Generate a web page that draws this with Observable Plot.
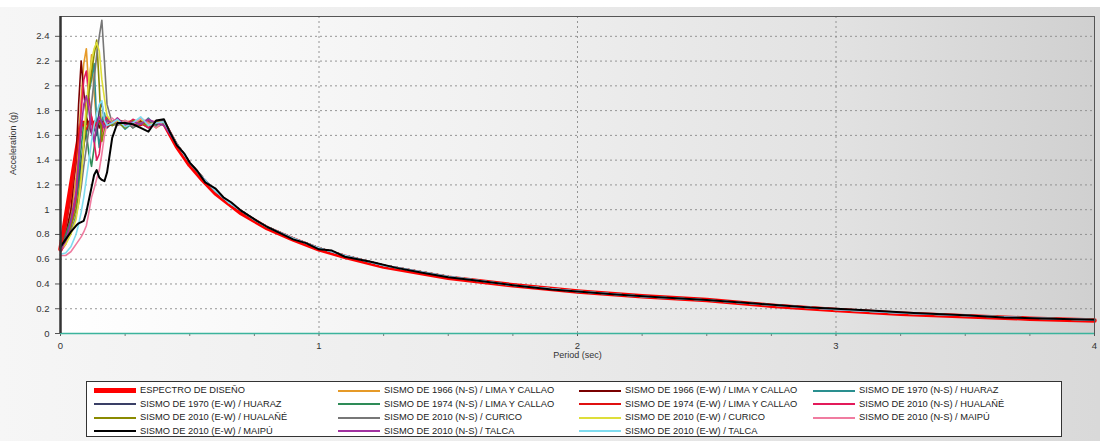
<!DOCTYPE html>
<html><head><meta charset="utf-8">
<script src="https://cdn.jsdelivr.net/npm/d3@7"></script>
<script src="https://cdn.jsdelivr.net/npm/@observablehq/plot@0.6"></script>
<style>
body{margin:0;background:#e8e8e8;font-family:"Liberation Sans",Arial,sans-serif;}
#wrap{position:relative;width:1100px;height:441px;overflow:hidden;
 background:linear-gradient(90deg,#f6f6f6 0%,#ececec 45%,#d9d9d9 100%);}
#topstrip{position:absolute;left:0;top:0;width:1100px;height:7px;background:#fff;}
#chart{position:absolute;left:0;top:0;}
#legend{position:absolute;left:86px;top:381px;width:976px;height:56px;background:#fff;border:1px solid #333;box-sizing:border-box;}
.item{position:absolute;height:13px;font-size:9.3px;color:#222;white-space:nowrap;}
.sw{position:absolute;left:0;width:42px;}
.lab{position:absolute;left:46px;top:0;line-height:13px;}
</style></head><body><div id="wrap"><div id="topstrip"></div><div id="chart"></div><div id="legend"></div></div>
<script>
// ---------- data ----------
const seriesNames = [
  "ESPECTRO DE DISEÑO",
  "SISMO DE 1966 (N-S) / LIMA Y CALLAO",
  "SISMO DE 1966 (E-W) / LIMA Y CALLAO",
  "SISMO DE 1970 (N-S) / HUARAZ",
  "SISMO DE 1970 (E-W) / HUARAZ",
  "SISMO DE 1974 (N-S) / LIMA Y CALLAO",
  "SISMO DE 1974 (E-W) / LIMA Y CALLAO",
  "SISMO DE 2010 (N-S) / HUALAÑÉ",
  "SISMO DE 2010 (E-W) / HUALAÑÉ",
  "SISMO DE 2010 (N-S) / CURICO",
  "SISMO DE 2010 (E-W) / CURICO",
  "SISMO DE 2010 (N-S) / MAIPÚ",
  "SISMO DE 2010 (E-W) / MAIPÚ",
  "SISMO DE 2010 (N-S) / TALCA",
  "SISMO DE 2010 (E-W) / TALCA"
];
const seriesColors = ["#ff0000","#e69a28","#7a0000","#2a8f8f","#3a3f66","#2e8b57","#e01010","#e31a5a","#8a8a00","#777777","#dede3a","#f07ca0","#000000","#a0309f","#7fdcef"];

// design spectrum
const designT = [0, 0.08, 0.40, 0.45, 0.5, 0.55, 0.6, 0.65, 0.7, 0.75, 0.8, 0.9, 1.0, 1.1, 1.25, 1.5, 1.75, 2.0, 2.25, 2.5, 2.75, 3.0, 3.25, 3.5, 3.75, 4.0];
const designA = [0.68, 1.70, 1.70, 1.51, 1.36, 1.24, 1.13, 1.05, 0.97, 0.91, 0.85, 0.76, 0.68, 0.62, 0.54, 0.45, 0.39, 0.34, 0.30, 0.27, 0.225, 0.19, 0.16, 0.14, 0.12, 0.105];

// records: short periods
const earlyT = [0, 0.02, 0.04, 0.06, 0.07, 0.08, 0.09, 0.10, 0.11, 0.12, 0.13, 0.14, 0.15, 0.16, 0.17, 0.18, 0.20, 0.22, 0.25, 0.28, 0.31, 0.34, 0.37, 0.40];
const lima66NS  = [0.68, 0.78, 0.95, 1.25, 1.55, 1.90, 2.18, 2.30, 1.95, 2.25, 1.95, 1.70, 1.68, 1.72, 1.70, 1.69, 1.71, 1.73, 1.70, 1.72, 1.69, 1.71, 1.66, 1.70];
const lima66EW  = [0.70, 0.80, 1.00, 1.40, 1.85, 2.20, 1.95, 1.75, 1.68, 1.62, 1.70, 1.74, 1.66, 1.70, 1.73, 1.70, 1.68, 1.72, 1.71, 1.69, 1.72, 1.70, 1.68, 1.71];
const huaraz70NS = [0.72, 0.78, 0.88, 1.05, 1.20, 1.35, 1.55, 1.75, 1.95, 2.05, 2.18, 1.70, 1.50, 1.72, 1.78, 1.68, 1.70, 1.72, 1.65, 1.70, 1.68, 1.74, 1.67, 1.70];
const huaraz70EW = [0.71, 0.77, 0.90, 1.10, 1.25, 1.40, 1.52, 1.62, 1.70, 1.72, 1.66, 1.60, 1.80, 1.86, 1.72, 1.66, 1.70, 1.73, 1.68, 1.72, 1.70, 1.66, 1.71, 1.72];
const lima74NS  = [0.75, 0.80, 0.92, 1.10, 1.30, 1.50, 1.70, 1.62, 1.45, 1.35, 1.50, 1.68, 1.72, 1.65, 1.70, 1.74, 1.68, 1.70, 1.72, 1.66, 1.70, 1.72, 1.68, 1.70];
const lima74EW  = [0.69, 0.85, 1.10, 1.40, 1.60, 1.72, 1.68, 1.65, 1.70, 1.75, 1.66, 1.70, 1.72, 1.68, 1.70, 1.67, 1.70, 1.72, 1.69, 1.70, 1.68, 1.72, 1.70, 1.69];
const hualaneNS = [0.66, 0.72, 0.85, 1.10, 1.40, 1.80, 2.05, 2.12, 1.90, 1.75, 1.55, 1.40, 1.45, 1.62, 1.72, 1.75, 1.70, 1.74, 1.68, 1.73, 1.70, 1.66, 1.72, 1.70];
const hualaneEW = [0.70, 0.76, 0.86, 1.00, 1.12, 1.28, 1.50, 1.75, 1.95, 2.10, 2.25, 2.37, 2.00, 1.55, 1.65, 1.72, 1.68, 1.71, 1.66, 1.72, 1.70, 1.68, 1.71, 1.70];
const curicoNS  = [0.70, 0.74, 0.82, 0.95, 1.05, 1.18, 1.35, 1.50, 1.65, 1.85, 2.05, 2.25, 2.40, 2.53, 2.20, 1.85, 1.70, 1.68, 1.72, 1.66, 1.70, 1.73, 1.67, 1.70];
const curicoEW  = [0.68, 0.72, 0.80, 0.92, 1.05, 1.25, 1.55, 1.85, 2.05, 2.20, 2.30, 2.35, 2.28, 2.05, 1.90, 1.76, 1.70, 1.72, 1.68, 1.70, 1.73, 1.69, 1.70, 1.71];
const maipuNS   = [0.63, 0.63, 0.66, 0.72, 0.75, 0.78, 0.82, 0.87, 0.98, 1.10, 1.17, 1.25, 1.32, 1.45, 1.60, 1.70, 1.74, 1.70, 1.72, 1.68, 1.74, 1.70, 1.66, 1.72];
const maipuEW   = [0.70, 0.76, 0.82, 0.87, 0.89, 0.90, 0.91, 0.98, 1.08, 1.18, 1.28, 1.32, 1.26, 1.24, 1.23, 1.30, 1.58, 1.70, 1.70, 1.69, 1.66, 1.63, 1.72, 1.73];
const talcaNS   = [0.67, 0.75, 0.90, 1.15, 1.40, 1.65, 1.85, 1.92, 1.80, 1.62, 1.55, 1.68, 1.75, 1.70, 1.66, 1.72, 1.70, 1.74, 1.68, 1.71, 1.69, 1.73, 1.70, 1.68];
const talcaEW   = [0.64, 0.65, 0.70, 0.80, 0.88, 0.98, 1.10, 1.25, 1.40, 1.55, 1.68, 1.78, 1.85, 1.88, 1.72, 1.68, 1.70, 1.73, 1.67, 1.70, 1.75, 1.68, 1.70, 1.71];

// records: long periods (shared envelope of the coloured records)
const tailT = [0.45, 0.5, 0.55, 0.6, 0.65, 0.7, 0.75, 0.8, 0.9, 1.0, 1.1, 1.25, 1.5, 1.75, 2.0, 2.25, 2.5, 2.75, 3.0, 3.25, 3.5, 3.75, 4.0];
const recordTail = [1.53, 1.38, 1.26, 1.15, 1.06, 0.99, 0.92, 0.86, 0.77, 0.69, 0.63, 0.55, 0.46, 0.39, 0.34, 0.30, 0.27, 0.23, 0.195, 0.165, 0.145, 0.125, 0.11];
// black record (Maipú E-W) long periods
const maipuEWTailT = [0.42, 0.45, 0.48, 0.5, 0.53, 0.56, 0.6, 0.63, 0.66, 0.7, 0.73, 0.76, 0.8, 0.85, 0.9, 0.95, 1.0, 1.05, 1.1, 1.2, 1.3, 1.4, 1.5, 1.6, 1.75, 1.9, 2.0, 2.15, 2.3, 2.5, 2.7, 2.9, 3.0, 3.15, 3.3, 3.5, 3.65, 3.8, 4.0];
const maipuEWTail  = [1.64, 1.52, 1.45, 1.38, 1.31, 1.22, 1.17, 1.10, 1.06, 0.99, 0.95, 0.91, 0.86, 0.81, 0.76, 0.73, 0.68, 0.67, 0.62, 0.58, 0.53, 0.49, 0.455, 0.43, 0.39, 0.355, 0.34, 0.315, 0.295, 0.27, 0.24, 0.21, 0.20, 0.183, 0.165, 0.148, 0.13, 0.122, 0.112];

const xTicks = [0, 1, 2, 3, 4];
const xMinor = [0.25, 0.5, 0.75, 1.25, 1.5, 1.75, 2.25, 2.5, 2.75, 3.25, 3.5, 3.75];
const yTicks = [0, 0.2, 0.4, 0.6, 0.8, 1, 1.2, 1.4, 1.6, 1.8, 2, 2.2, 2.4];
const axisTitles = ["Acceleration (g)", "Period (sec)"];

// ---------- build tables ----------
const earlyArrays = [lima66NS, lima66EW, huaraz70NS, huaraz70EW, lima74NS, lima74EW, hualaneNS, hualaneEW, curicoNS, curicoEW, maipuNS, maipuEW, talcaNS, talcaEW];
function recordRows(i) {
  const name = seriesNames[i + 1];
  const rows = earlyT.map((t, j) => ({t, a: earlyArrays[i][j], s: name}));
  if (name === seriesNames[12]) {
    maipuEWTailT.forEach((t, j) => rows.push({t, a: maipuEWTail[j], s: name}));
  } else {
    tailT.forEach((t, j) => rows.push({t, a: recordTail[j], s: name}));
  }
  return rows;
}
const designRows = designT.map((t, j) => ({t, a: designA[j], s: seriesNames[0]}));
const order = [0,1,2,3,4,5,6,7,8,9,10,12,13,11]; // black (index 11) on top
const lineMarks = order.map(i => Plot.line(recordRows(i), {x: "t", y: "a", stroke: seriesColors[i + 1], strokeWidth: i === 11 ? 2 : 1.6}));

const chart = Plot.plot({
  width: 1100, height: 370,
  marginLeft: 60, marginRight: 6, marginTop: 16, marginBottom: 37,
  x: {domain: [0, 4]},
  y: {domain: [0, 2.56]},
  style: {background: "transparent", fontFamily: "'Liberation Sans', Arial, sans-serif", fontSize: "9.5px", color: "#333", overflow: "visible"},
  marks: [
    Plot.frame({fill: "url(#plotBg)", stroke: null}),
    Plot.gridY(yTicks.slice(1), {stroke: "#8a8a8a", strokeOpacity: 1, strokeWidth: 0.9, strokeDasharray: "2,3"}),
    Plot.gridX(xTicks.slice(1, 4), {stroke: "#8a8a8a", strokeOpacity: 1, strokeWidth: 0.9, strokeDasharray: "2,3"}),
    Plot.axisY(yTicks, {tickSize: 5, tickPadding: 6, tickFormat: d => String(+d.toFixed(1)), label: null, stroke: "#555"}),
    Plot.axisX(xTicks, {tickSize: 3, tickPadding: 6, tickFormat: d => String(d), label: null, stroke: "#555"}),
    Plot.axisX(xMinor, {tickSize: 3, text: null, label: null, stroke: "#777"}),
    Plot.text([axisTitles[0]], {frameAnchor: "left", dx: -47, rotate: -90, fontSize: 9, fill: "#333"}),
    Plot.text([axisTitles[1]], {frameAnchor: "bottom", dy: 24, fontSize: 9, fill: "#333"}),
    Plot.line(designRows, {x: "t", y: "a", stroke: seriesColors[0], strokeWidth: 4.5}),
    ...lineMarks,
    Plot.frame({stroke: "#555", strokeWidth: 1}),
    Plot.ruleY([0], {stroke: "#3bb39c", strokeWidth: 1.5}),
    Plot.ruleX([0], {stroke: "#333", strokeWidth: 2.5})
  ]
});
d3.select(chart).insert("defs", ":first-child").html(
  '<linearGradient id="plotBg" x1="0" y1="0" x2="1" y2="0">' +
  '<stop offset="0" stop-color="#ffffff"/><stop offset="0.4" stop-color="#f1f1f1"/>' +
  '<stop offset="0.75" stop-color="#e2e2e2"/><stop offset="1" stop-color="#d0d0d0"/></linearGradient>');
document.getElementById("chart").appendChild(chart);

// ---------- legend ----------
const legend = document.getElementById("legend");
const colX = [7, 251, 492, 726];
const rowY = [2, 15.5, 29, 42.5];
seriesNames.forEach((name, i) => {
  const col = i % 4, row = Math.floor(i / 4);
  const it = document.createElement("div");
  it.className = "item";
  it.style.left = colX[col] + "px";
  it.style.top = rowY[row] + "px";
  const sw = document.createElement("div");
  sw.className = "sw";
  const h = i === 0 ? 5 : 2;
  sw.style.height = h + "px";
  sw.style.top = (6.5 - h / 2) + "px";
  sw.style.background = seriesColors[i];
  const lab = document.createElement("div");
  lab.className = "lab";
  lab.textContent = name;
  it.appendChild(sw); it.appendChild(lab);
  legend.appendChild(it);
});
</script></body></html>
